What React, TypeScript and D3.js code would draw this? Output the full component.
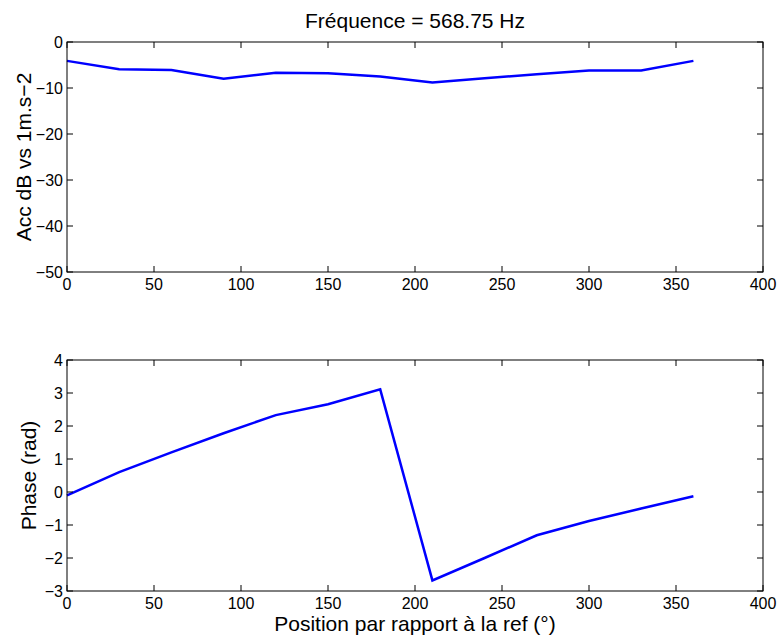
import React from "react";
import * as d3 from "d3";

const positions = [0, 30, 60, 90, 120, 150, 180, 210, 240, 270, 300, 330, 360];
const accDb = [-4.1, -5.9, -6.1, -8.0, -6.7, -6.8, -7.5, -8.8, -7.9, -7.0, -6.2, -6.2, -4.1];
const phaseRad = [-0.1, 0.6, 1.2, 1.78, 2.33, 2.66, 3.11, -2.68, -2.0, -1.31, -0.88, -0.5, -0.13];
const xTicks = [0, 50, 100, 150, 200, 250, 300, 350, 400];
const accTicks = [0, -10, -20, -30, -40, -50];
const phaseTicks = [-3, -2, -1, 0, 1, 2, 3, 4];

const title = "Fréquence = 568.75 Hz";
const xLabel = "Position par rapport à la ref (°)";
const accLabel = "Acc dB vs 1m.s−2";
const phaseLabel = "Phase (rad)";

const W = 777;
const H = 639;
const FONT = "'Liberation Sans', Arial, Helvetica, sans-serif";
const TICK_FS = 16;
const LABEL_FS = 21;
const fmt = (v: number) => (v < 0 ? "−" + Math.abs(v) : String(v));

type PanelProps = {
  top: number;
  bottom: number;
  yDomain: [number, number];
  yTicks: number[];
  values: number[];
  yLabel: string;
  yLabelX: number;
};

function Panel({ top, bottom, yDomain, yTicks, values, yLabel, yLabelX }: PanelProps) {
  const left = 67;
  const right = 763;
  const x = d3.scaleLinear().domain([0, 400]).range([left, right]);
  const y = d3.scaleLinear().domain(yDomain).range([bottom, top]);
  const line = d3
    .line<number>()
    .x((_, i) => x(positions[i]))
    .y((d) => y(d));
  const tl = 6;
  return (
    <g>
      <path d={line(values) || ""} fill="none" stroke="#0000ff" strokeWidth={2.5} strokeLinejoin="miter" />
      {xTicks.map((t) => (
        <g key={"x" + t}>
          <line x1={x(t)} x2={x(t)} y1={bottom} y2={bottom - tl} stroke="#000" strokeWidth={1} />
          <line x1={x(t)} x2={x(t)} y1={top} y2={top + tl} stroke="#000" strokeWidth={1} />
          <text x={x(t)} y={bottom + 17.5} textAnchor="middle" fontSize={TICK_FS} fontFamily={FONT} fill="#000">
            {fmt(t)}
          </text>
        </g>
      ))}
      {yTicks.map((t) => (
        <g key={"y" + t}>
          <line x1={left} x2={left + tl} y1={y(t)} y2={y(t)} stroke="#000" strokeWidth={1} />
          <line x1={right} x2={right - tl} y1={y(t)} y2={y(t)} stroke="#000" strokeWidth={1} />
          <text x={left - 4} y={y(t) + 5.5} textAnchor="end" fontSize={TICK_FS} fontFamily={FONT} fill="#000">
            {fmt(t)}
          </text>
        </g>
      ))}
      <rect x={left} y={top} width={right - left} height={bottom - top} fill="none" stroke="#000" strokeWidth={1} />
      <text
        transform={`translate(${yLabelX},${(top + bottom) / 2}) rotate(-90)`}
        textAnchor="middle"
        fontSize={LABEL_FS}
        fontFamily={FONT}
        fill="#000"
      >
        {yLabel}
      </text>
    </g>
  );
}

export default function App() {
  return (
    <svg
      width={W}
      height={H}
      style={{ position: "absolute", left: 0, top: 0, background: "#fff" }}
    >
      <rect width={W} height={H} fill="#fff" />
      <text x={415} y={28} textAnchor="middle" fontSize={LABEL_FS} fontFamily={FONT} fill="#000">
        {title}
      </text>
      <Panel top={42} bottom={272} yDomain={[-50, 0]} yTicks={accTicks} values={accDb} yLabel={accLabel} yLabelX={31} />
      <Panel top={360} bottom={591} yDomain={[-3, 4]} yTicks={phaseTicks} values={phaseRad} yLabel={phaseLabel} yLabelX={36} />
      <text x={415} y={631} textAnchor="middle" fontSize={LABEL_FS} fontFamily={FONT} fill="#000">
        {xLabel}
      </text>
    </svg>
  );
}
